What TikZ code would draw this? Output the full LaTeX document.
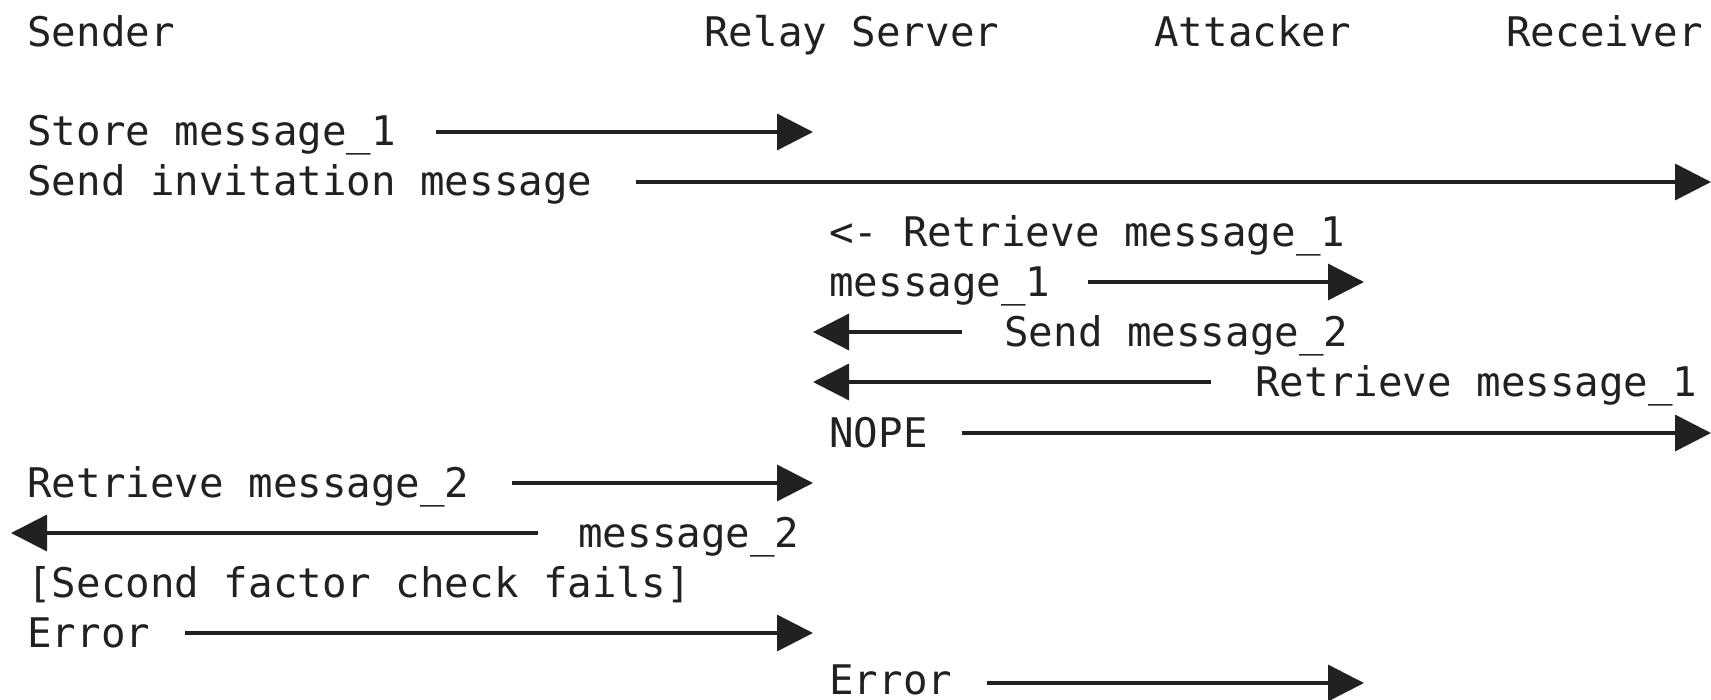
\documentclass[tikz,border=0pt]{standalone}
\usepackage{fontspec}
\newfontfamily\seqfont{DejaVu Sans Mono}
\usetikzlibrary{arrows.meta}
\tikzset{
	lbl/.style={font=\seqfont\fontsize{20.4}{24}\selectfont,anchor=base west,inner sep=0pt,text=black!87},
	msg/.style={draw=black!87,line width=1.7pt,-{Triangle[length=18pt,width=18pt]}},
}
\begin{document}
\begin{tikzpicture}[x=0.5pt,y=-0.5pt]
	\useasboundingbox (0,0) rectangle (1711,700);
	% participants
	\node[lbl] (sender) at (27,47) {Sender};
	\node[lbl] (relay) at (704,47) {Relay Server};
	\node[lbl] (attacker) at (1154,47) {Attacker};
	\node[lbl] (receiver) at (1506,47) {Receiver};
	% messages
	\node[lbl] (store) at (27,146) {Store message\_1};
	\node[lbl] (invite) at (27,196) {Send invitation message};
	\node[lbl] (fetchA) at (829,246) {<- Retrieve message\_1};
	\node[lbl] (msgA) at (829,296) {message\_1};
	\node[lbl] (sendB) at (1004,346) {Send message\_2};
	\node[lbl] (fetchR) at (1255,396) {Retrieve message\_1};
	\node[lbl] (nope) at (829,447) {NOPE};
	\node[lbl] (fetchB) at (27,497) {Retrieve message\_2};
	\node[lbl] (msgB) at (578,547) {message\_2};
	\node[lbl] (check) at (27,597) {[Second factor check fails]};
	\node[lbl] (errS) at (27,647) {Error};
	\node[lbl] (errR) at (829,694) {Error};
	% arrow ends
	\coordinate (store0) at (436,132);	\coordinate (store1) at (813,132);
	\coordinate (invite0) at (636,182);	\coordinate (invite1) at (1711,182);
	\coordinate (msgA0) at (1088,282);	\coordinate (msgA1) at (1364,282);
	\coordinate (sendB0) at (962,332);	\coordinate (sendB1) at (813,332);
	\coordinate (fetchR0) at (1211,382);	\coordinate (fetchR1) at (813,382);
	\coordinate (nope0) at (962,433);	\coordinate (nope1) at (1711,433);
	\coordinate (fetchB0) at (512,483);	\coordinate (fetchB1) at (813,483);
	\coordinate (msgB0) at (538,533);	\coordinate (msgB1) at (11,533);
	\coordinate (errS0) at (185,633);	\coordinate (errS1) at (813,633);
	\coordinate (errR0) at (987,683);	\coordinate (errR1) at (1364,683);
	\draw[msg] (store0) -- (store1);
	\draw[msg] (invite0) -- (invite1);
	\draw[msg] (msgA0) -- (msgA1);
	\draw[msg] (sendB0) -- (sendB1);
	\draw[msg] (fetchR0) -- (fetchR1);
	\draw[msg] (nope0) -- (nope1);
	\draw[msg] (fetchB0) -- (fetchB1);
	\draw[msg] (msgB0) -- (msgB1);
	\draw[msg] (errS0) -- (errS1);
	\draw[msg] (errR0) -- (errR1);
\end{tikzpicture}
\end{document}
